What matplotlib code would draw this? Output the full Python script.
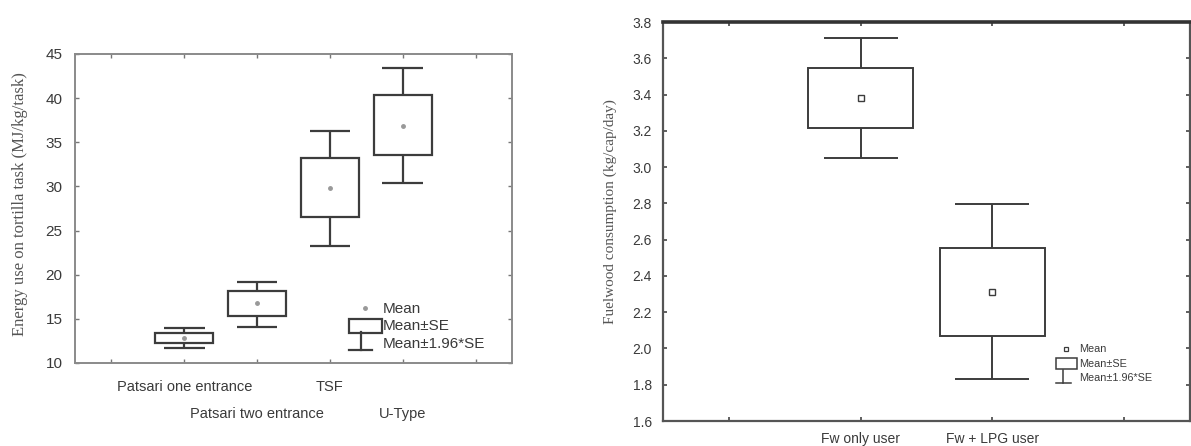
import matplotlib
matplotlib.use("Agg")
import matplotlib.pyplot as plt
from matplotlib.lines import Line2D
from matplotlib.patches import Rectangle
from matplotlib.legend_handler import HandlerBase

# ---------------- data ----------------
# Left panel: energy use on tortilla task (MJ/kg/task)
left_categories = ["Patsari one entrance", "Patsari two entrance", "TSF", "U-Type"]
left_mean = [12.85, 16.8, 29.8, 36.9]
left_se_low = [12.3, 15.3, 26.5, 33.6]
left_se_high = [13.4, 18.1, 33.2, 40.3]
left_ci_low = [11.7, 14.1, 23.3, 30.4]
left_ci_high = [13.95, 19.2, 36.3, 43.4]
left_yticks = [10, 15, 20, 25, 30, 35, 40, 45]

# Right panel: fuelwood consumption (kg/cap/day)
right_categories = ["Fw only user", "Fw + LPG user"]
right_mean = [3.38, 2.31]
right_se_low = [3.215, 2.068]
right_se_high = [3.548, 2.556]
right_ci_low = [3.05, 1.834]
right_ci_high = [3.714, 2.796]
right_yticks = [1.6, 1.8, 2.0, 2.2, 2.4, 2.6, 2.8, 3.0, 3.2, 3.4, 3.6, 3.8]

legend_labels = ["Mean", "Mean\u00b1SE", "Mean\u00b11.96*SE"]

# ---------------- style ----------------
LINE = "#3c3c3c"
TXT = "#3a3a3a"
SANS = ["Liberation Sans", "DejaVu Sans"]
SERIF = ["Liberation Serif", "DejaVu Serif"]


class BoxHandle:
    pass


class WhiskerHandle:
    pass


class HandlerBox(HandlerBase):
    def __init__(self, lw, **kw):
        super().__init__(**kw)
        self.lw = lw

    def create_artists(self, legend, orig_handle, xdescent, ydescent,
                       width, height, fontsize, trans):
        r = Rectangle((-xdescent, -ydescent - 0.25 * height), width, height * 1.35,
                      fill=False, edgecolor=LINE, lw=self.lw, transform=trans)
        return [r]


class HandlerWhisker(HandlerBase):
    def __init__(self, lw, **kw):
        super().__init__(**kw)
        self.lw = lw

    def create_artists(self, legend, orig_handle, xdescent, ydescent,
                       width, height, fontsize, trans):
        cx = -xdescent + width * 0.35
        top = -ydescent + height * 1.5
        bot = -ydescent - height * 0.2
        v = Line2D([cx, cx], [bot, top], color=LINE, lw=self.lw, transform=trans)
        h = Line2D([-xdescent, -xdescent + width * 0.7], [bot, bot],
                   color=LINE, lw=self.lw, transform=trans)
        return [v, h]


def draw_panel(ax, pos, mean, se_lo, se_hi, ci_lo, ci_hi, lw, mean_style):
    heights = [h - l for h, l in zip(se_hi, se_lo)]
    ax.bar(pos, heights, bottom=se_lo, width=0.8, fill=False,
           edgecolor=LINE, linewidth=lw, zorder=3)
    ax.vlines(pos, se_hi, ci_hi, color=LINE, lw=lw, zorder=3)
    ax.vlines(pos, ci_lo, se_lo, color=LINE, lw=lw, zorder=3)
    for p, lo, hi in zip(pos, ci_lo, ci_hi):
        ax.hlines([lo, hi], p - 0.28, p + 0.28, color=LINE, lw=lw, zorder=3)
    ax.plot(pos, mean, linestyle="none", zorder=4, **mean_style)


fig = plt.figure(figsize=(11.91, 4.46), dpi=100)

# ---------------- left panel ----------------
axL = fig.add_axes([75 / 1191, 1 - 363 / 446, 437 / 1191, 309 / 446])
posL = [1, 2, 3, 4]
draw_panel(axL, posL, left_mean, left_se_low, left_se_high, left_ci_low, left_ci_high,
           1.6, dict(marker="o", markersize=2.5, color="#999999"))
axL.set_xlim(-0.5, 5.5)
axL.set_ylim(10, 45)
axL.set_yticks(left_yticks)
axL.set_yticklabels([str(v) for v in left_yticks], fontsize=11, color=TXT, family=SANS)
# major ticks 0..5; first label row on the odd categories, second row via minor ticks
axL.xaxis.remove_overlapping_locs = False
axL.set_xticks(range(6))
row1 = ["", left_categories[0], "", left_categories[2], "", ""]
axL.set_xticklabels(row1, fontsize=10.5, color=TXT, family=SANS)
axL.set_xticks([posL[1], posL[3]], minor=True)
axL.set_xticklabels([left_categories[1], left_categories[3]], minor=True,
                    fontsize=10.5, color=TXT, family=SANS)
axL.tick_params(direction="in", length=3, width=1, color="#777777",
                top=True, right=True)
axL.tick_params(axis="x", which="major", pad=12)
axL.tick_params(axis="x", which="minor", length=0, pad=31.5, top=False)
axL.tick_params(axis="y", pad=9)
for s in axL.spines.values():
    s.set_color("#8a8a8a")
    s.set_linewidth(1.4)
axL.set_ylabel("Energy use on tortilla task (MJ/kg/task)", family=SERIF,
               fontsize=12, color="#555555")
axL.yaxis.set_label_coords(-0.107, 0.515)

hL = [Line2D([], [], linestyle="none", marker="o", markersize=2.5, color="#999999"),
      BoxHandle(), WhiskerHandle()]
legL = axL.legend(hL, legend_labels, loc="lower left", bbox_to_anchor=(0.628, 0.04),
                  frameon=False, handlelength=2.1, handletextpad=0.1,
                  labelspacing=0.22, borderpad=0, borderaxespad=0,
                  prop={"family": SANS, "size": 11},
                  handler_map={BoxHandle: HandlerBox(1.6), WhiskerHandle: HandlerWhisker(1.6)})
for t in legL.get_texts():
    t.set_color(TXT)

# ---------------- right panel ----------------
axR = fig.add_axes([663 / 1191, 1 - 421 / 446, 527 / 1191, 399 / 446])
posR = [1, 2]
draw_panel(axR, posR, right_mean, right_se_low, right_se_high, right_ci_low, right_ci_high,
           1.4, dict(marker="s", markersize=4, markerfacecolor="white",
                     markeredgecolor=LINE, markeredgewidth=1.0))
axR.set_xlim(-0.5, 3.5)
axR.set_ylim(1.6, 3.8)
axR.set_yticks(right_yticks)
axR.set_yticklabels([f"{v:.1f}" for v in right_yticks], fontsize=10, color=TXT, family=SANS)
axR.set_xticks(range(4))
axR.set_xticklabels([""] + right_categories + [""], fontsize=10, color=TXT, family=SANS)
axR.tick_params(direction="in", length=3, width=1.2, color="#444444",
                top=True, right=True)
axR.tick_params(axis="x", pad=8)
axR.tick_params(axis="y", pad=8)
for name, s in axR.spines.items():
    s.set_color("#555555")
    s.set_linewidth(1.6)
axR.spines["top"].set_linewidth(2.6)
axR.spines["top"].set_color("#333333")
axR.set_ylabel("Fuelwood consumption (kg/cap/day)", family=SERIF,
               fontsize=11, color="#555555")
axR.yaxis.set_label_coords(-0.087, 0.524)

hR = [Line2D([], [], linestyle="none", marker="s", markersize=3.5,
             markerfacecolor="white", markeredgecolor=LINE, markeredgewidth=0.9),
      BoxHandle(), WhiskerHandle()]
legR = axR.legend(hR, legend_labels, loc="lower left", bbox_to_anchor=(0.745, 0.095),
                  frameon=False, handlelength=2.0, handletextpad=0.2,
                  labelspacing=0.4, borderpad=0, borderaxespad=0,
                  prop={"family": SANS, "size": 7.8},
                  handler_map={BoxHandle: HandlerBox(1.1), WhiskerHandle: HandlerWhisker(1.1)})
for t in legR.get_texts():
    t.set_color(TXT)

fig.savefig("out.png", dpi=100, facecolor="white")
